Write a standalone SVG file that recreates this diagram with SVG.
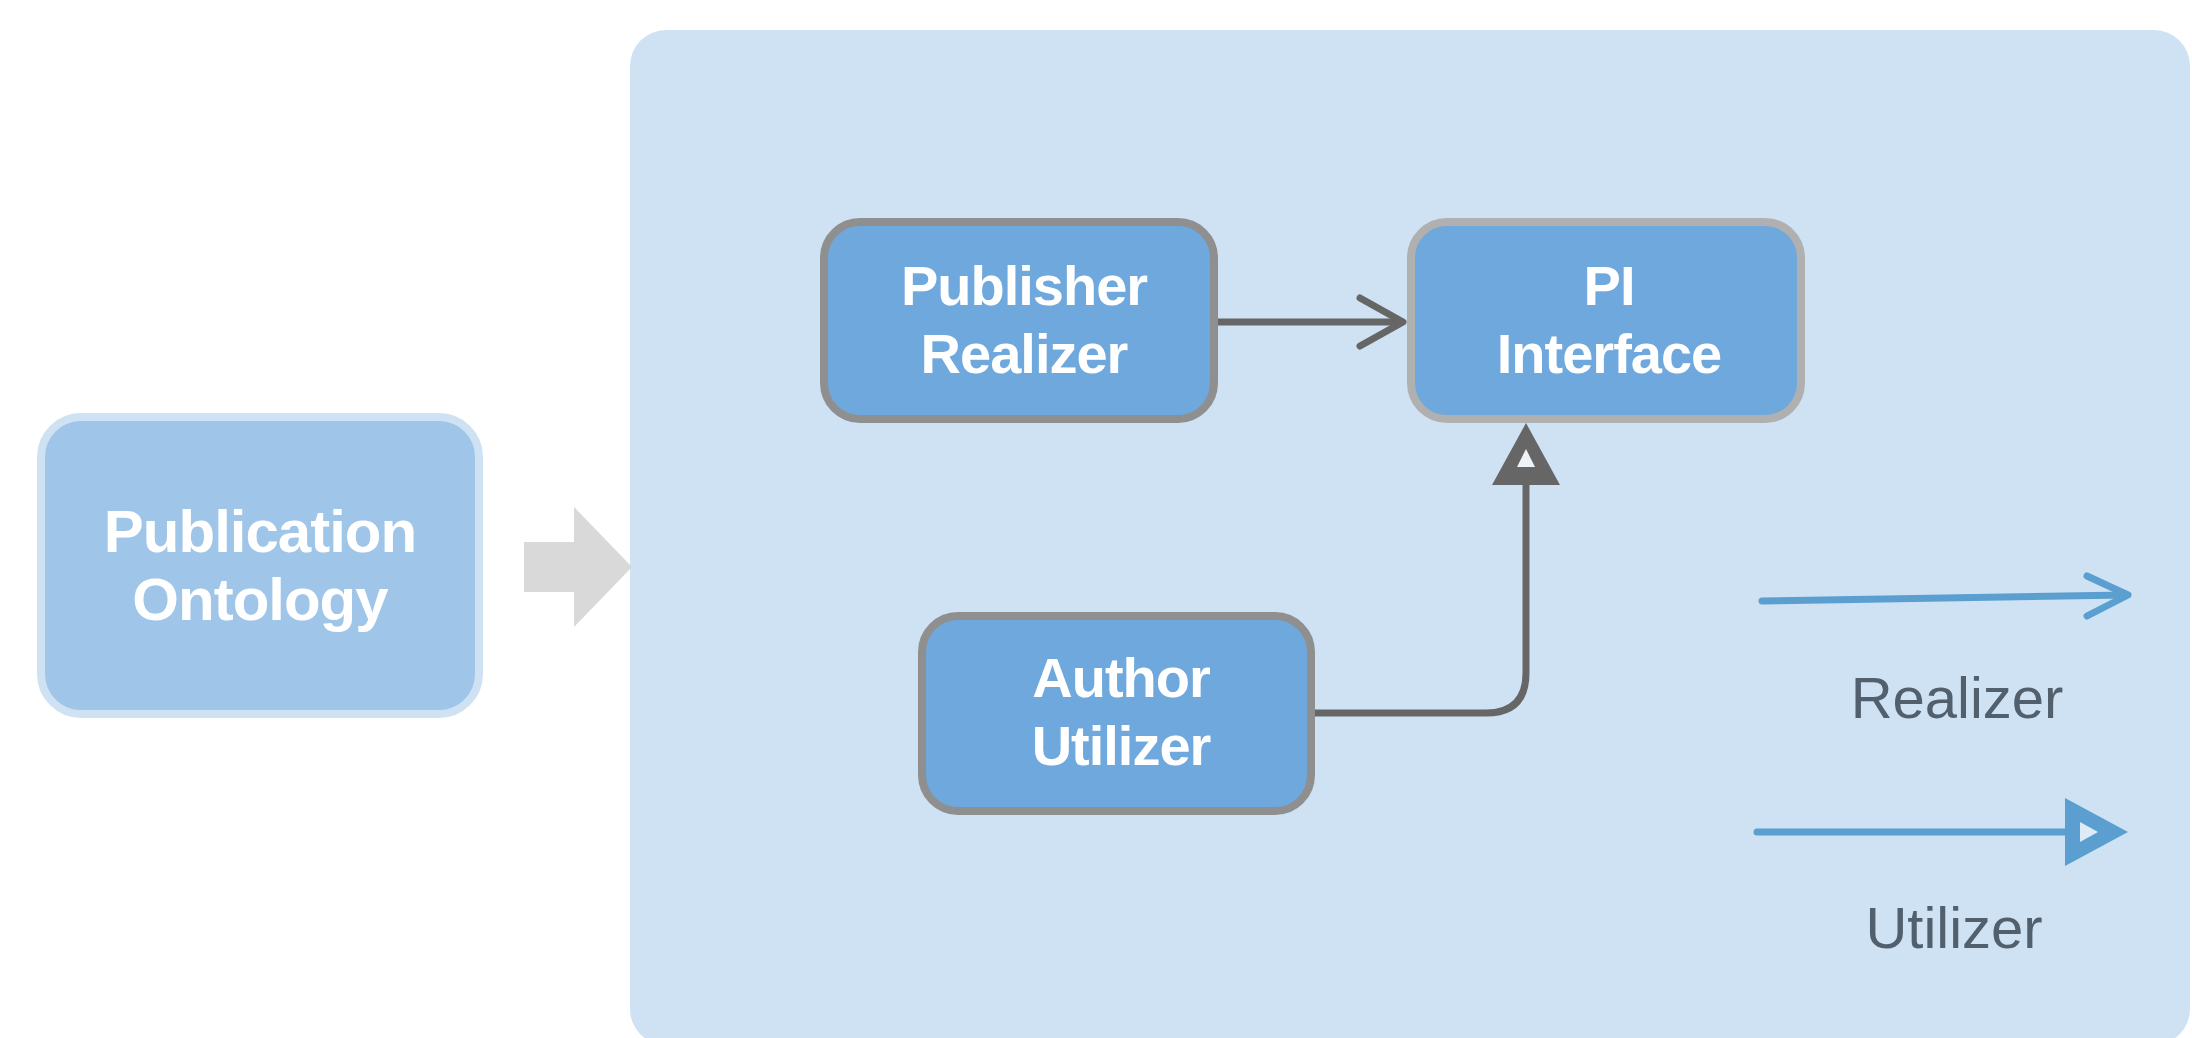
<svg xmlns="http://www.w3.org/2000/svg" width="2192" height="1038" viewBox="0 0 2192 1038">
  <style>
    .node { fill: #6fa8dc; stroke: #8f8f8f; stroke-width: 8; }
    .label { font-family: "Liberation Sans", Arial, Helvetica, sans-serif; font-weight: bold; font-size: 56px; fill: #ffffff; text-anchor: middle; letter-spacing: -1px; }
    .legend { font-family: "Liberation Sans", Arial, Helvetica, sans-serif; font-size: 58px; fill: #52606e; text-anchor: middle; }
    .link { fill: none; stroke: #666666; stroke-width: 7; }
    .key { fill: none; stroke: #5a9fd0; stroke-width: 7; stroke-linecap: round; stroke-linejoin: round; }
  </style>
  <rect width="2192" height="1038" fill="#ffffff"/>

  <!-- container panel -->
  <rect id="panel" x="630" y="30" width="1560" height="1015" rx="36" fill="#cfe2f3"/>

  <!-- source node -->
  <g id="publication-ontology">
    <rect x="41" y="417" width="438" height="297" rx="40" fill="#9fc5e8" stroke="#cfe2f3" stroke-width="8"/>
    <text class="label" x="260" y="552" style="font-size:60px">Publication</text>
    <text class="label" x="260" y="620" style="font-size:60px">Ontology</text>
  </g>

  <!-- block arrow into the panel -->
  <g id="flow-arrow">
    <polygon points="524,542 574,542 574,507 632,567 574,627 574,592 524,592" fill="#d9d9d9"/>
  </g>

  <g id="publisher-realizer">
    <rect class="node" x="824" y="222" width="390" height="197" rx="36"/>
    <text class="label" x="1024" y="305">Publisher</text>
    <text class="label" x="1024" y="373">Realizer</text>
  </g>

  <g id="pi-interface">
    <rect class="node" x="1411" y="222" width="390" height="197" rx="36" style="stroke:#b0b0b0"/>
    <text class="label" x="1609" y="305">PI</text>
    <text class="label" x="1609" y="373">Interface</text>
  </g>

  <g id="author-utilizer">
    <rect class="node" x="922" y="616" width="389" height="195" rx="36"/>
    <text class="label" x="1121" y="697">Author</text>
    <text class="label" x="1121" y="765">Utilizer</text>
  </g>

  <!-- connectors -->
  <g id="connectors">
    <!-- realizer: open chevron head -->
    <line class="link" x1="1218" y1="322" x2="1400" y2="322"/>
    <polyline class="link" points="1360,298 1403,322 1360,346" stroke-width="8" stroke-linecap="round" stroke-linejoin="round"/>
    <!-- utilizer: hollow triangle head -->
    <path class="link" d="M1315,713 H1486 Q1526,713 1526,673 V482"/>
    <polygon points="1526,423 1560,485 1492,485" fill="#666666"/>
    <polygon points="1526,449 1535,467 1517,467" fill="#eef3f8"/>
  </g>

  <!-- legend -->
  <g id="legend">
    <path class="key" d="M1762,601 L2126,595"/>
    <polyline class="key" points="2087,576 2128,595 2087,616"/>
    <text class="legend" x="1957" y="718">Realizer</text>

    <line class="key" x1="1757" y1="832" x2="2068" y2="832"/>
    <polygon points="2065,798 2128,832 2065,866" fill="#5a9fd0"/>
    <polygon points="2080,822 2098,832 2080,842" fill="#dfebf7"/>
    <text class="legend" x="1954" y="948">Utilizer</text>
  </g>
</svg>
